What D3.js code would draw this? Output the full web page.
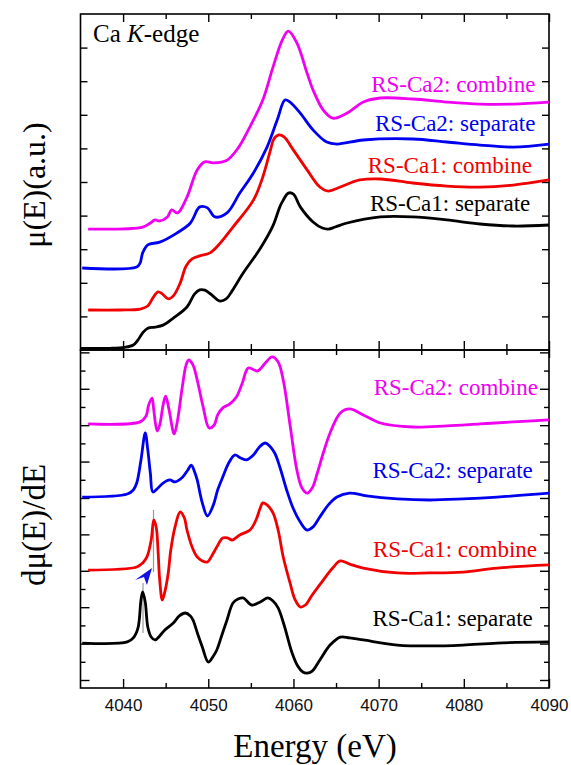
<!DOCTYPE html>
<html>
<head>
<meta charset="utf-8">
<script src="https://cdn.jsdelivr.net/npm/d3@7"></script>
<style>
  body { margin: 0; background: #fff; }
  .serif { font-family: "Liberation Serif", "Times New Roman", "DejaVu Serif", "Noto Serif", serif; }
  .sans { font-family: "Liberation Sans", Arial, "DejaVu Sans", sans-serif; }
</style>
</head>
<body>
<div id="chart"></div>
<script>
// tick values
const energyMajor = [4040, 4050, 4060, 4070, 4080, 4090];
const energyMinor = [4045, 4055, 4065, 4075, 4085];
const muTicks = [1, 2, 3, 4, 5, 6, 7, 8, 9];
const derMajor = [0, 2, 4, 6, 8, 10, 12, 14, 16, 18];
const derMinor = [1, 3, 5, 7, 9, 11, 13, 15, 17];

const seriesNames = ["RS-Ca1: separate", "RS-Ca1: combine", "RS-Ca2: separate", "RS-Ca2: combine"];
const seriesColors = ["#000000", "#f00000", "#0000f0", "#f000f0"];

// mu(E), offset stacked, [energy eV, a.u.]
const muCa1Sep = [[4035.0,0.05],[4038.5,0.05],[4040.2,0.08],[4041.2,0.15],[4041.75,0.30],[4042.3,0.51],[4042.9,0.65],[4043.75,0.68],[4044.7,0.74],[4045.9,0.95],[4047.5,1.28],[4048.4,1.67],[4049.0,1.79],[4049.6,1.78],[4050.4,1.64],[4051.3,1.46],[4052.1,1.52],[4052.8,1.76],[4054.1,2.29],[4056.1,3.02],[4057.6,3.70],[4058.4,4.26],[4058.8,4.46],[4059.4,4.67],[4060.0,4.64],[4060.8,4.26],[4062.3,3.81],[4063.4,3.63],[4064.1,3.60],[4064.9,3.66],[4066.3,3.78],[4070.2,3.96],[4074.0,3.96],[4078.0,3.87],[4081.9,3.75],[4085.8,3.69],[4090,3.72]];
const muCa1Comb = [[4035.9,1.19],[4039.6,1.19],[4042.0,1.22],[4042.9,1.31],[4043.5,1.55],[4044.1,1.73],[4044.6,1.67],[4045.3,1.52],[4045.9,1.61],[4046.7,1.99],[4047.4,2.50],[4048.1,2.71],[4049.0,2.80],[4050.2,2.89],[4051.4,3.18],[4052.9,3.66],[4055.3,4.46],[4056.4,5.15],[4057.3,5.95],[4057.7,6.28],[4058.3,6.40],[4058.9,6.34],[4060.0,5.95],[4061.6,5.36],[4063.1,4.85],[4064.1,4.73],[4065.5,4.85],[4067.8,5.06],[4070.2,5.09],[4074.0,4.97],[4078.0,4.88],[4081.9,4.85],[4085.8,4.91],[4090,5.06]];
const muCa2Sep = [[4035.2,2.44],[4041.6,2.47],[4042.0,2.59],[4042.3,2.89],[4042.9,3.13],[4044.3,3.21],[4046.3,3.48],[4047.9,3.78],[4048.7,4.17],[4049.0,4.26],[4049.9,4.23],[4050.8,3.96],[4052.2,4.08],[4053.7,4.67],[4055.3,5.27],[4056.9,6.04],[4058.1,6.85],[4059.0,7.44],[4059.6,7.38],[4060.8,7.05],[4062.3,6.55],[4063.9,6.19],[4065.1,6.13],[4068.2,6.25],[4074.0,6.28],[4078.0,6.19],[4081.9,6.10],[4085.8,6.04],[4090,6.13]];
const muCa2Comb = [[4035.9,3.60],[4042.3,3.66],[4043.2,3.78],[4043.75,3.87],[4044.3,3.84],[4045.2,3.96],[4045.7,4.17],[4046.4,4.08],[4047.5,4.55],[4048.7,5.36],[4049.6,5.60],[4050.6,5.57],[4052.2,5.65],[4053.5,6.01],[4054.7,6.55],[4056.4,7.44],[4057.6,8.42],[4058.7,9.23],[4059.4,9.49],[4060.4,9.14],[4061.6,8.24],[4062.3,7.74],[4063.5,7.14],[4064.6,6.90],[4066.3,7.05],[4068.2,7.38],[4070.2,7.50],[4074.0,7.47],[4078.0,7.38],[4081.9,7.32],[4085.8,7.32],[4090,7.38]];

// first derivative, offset stacked, [energy eV, a.u.]
const derCa1Sep = [[4035.2,2.03],[4040.5,2.09],[4041.2,2.31],[4041.75,2.86],[4042.1,4.40],[4042.3,4.84],[4042.6,4.29],[4042.9,2.91],[4043.3,2.36],[4043.75,2.20],[4044.3,2.42],[4044.9,2.75],[4045.9,3.13],[4046.6,3.52],[4047.3,3.68],[4047.9,3.52],[4048.2,3.30],[4048.8,2.47],[4049.3,1.81],[4050.0,0.99],[4050.6,1.32],[4051.0,1.65],[4051.6,2.47],[4052.2,3.30],[4052.9,4.23],[4053.5,4.45],[4054.1,4.51],[4055.1,4.12],[4056.1,4.29],[4057.0,4.51],[4057.6,4.34],[4058.2,3.96],[4058.9,3.02],[4059.8,1.54],[4060.5,0.77],[4061.1,0.44],[4061.6,0.38],[4062.2,0.49],[4063.1,1.10],[4064.3,1.92],[4065.5,2.36],[4066.6,2.31],[4068.2,2.20],[4072.2,1.92],[4076.0,1.87],[4079.9,1.92],[4083.9,2.03],[4090,2.09]];
const derCa1Comb = [[4035.9,6.04],[4041.6,6.21],[4042.3,6.43],[4042.8,6.76],[4043.3,7.69],[4043.6,8.79],[4043.9,8.35],[4044.1,7.14],[4044.3,5.49],[4044.6,4.40],[4044.9,4.84],[4045.3,5.88],[4045.6,7.14],[4046.1,8.41],[4046.7,9.23],[4047.2,8.90],[4047.5,8.24],[4048.1,7.31],[4048.7,6.76],[4049.3,6.54],[4049.9,6.48],[4050.4,6.81],[4051.0,7.31],[4051.7,7.80],[4052.3,7.80],[4052.8,7.69],[4053.7,7.97],[4054.9,8.24],[4055.6,8.79],[4056.1,9.45],[4056.4,9.73],[4056.9,9.62],[4057.6,9.18],[4058.2,8.24],[4058.8,6.76],[4059.6,5.33],[4060.2,4.40],[4060.8,4.01],[4061.4,4.12],[4062.2,4.67],[4063.5,5.49],[4064.6,6.15],[4065.5,6.54],[4066.6,6.37],[4068.2,6.15],[4072.2,5.88],[4076.0,5.88],[4079.9,5.93],[4083.9,6.15],[4090,6.32]];
const derCa2Sep = [[4035.2,10.05],[4040.5,10.22],[4041.2,10.44],[4041.6,10.82],[4042.1,12.09],[4042.6,13.57],[4042.9,12.64],[4043.2,11.37],[4043.5,10.33],[4044.1,10.55],[4044.7,10.82],[4045.5,10.99],[4046.1,10.88],[4047.0,11.15],[4047.6,11.54],[4048.0,11.81],[4048.4,11.43],[4048.7,10.99],[4049.3,9.73],[4049.9,9.01],[4050.6,9.62],[4051.1,10.44],[4051.7,11.15],[4052.4,11.92],[4053.1,12.36],[4053.8,12.20],[4054.5,12.09],[4055.3,12.36],[4056.0,12.80],[4056.7,13.02],[4057.2,12.86],[4057.8,12.47],[4058.4,11.70],[4059.2,10.44],[4059.95,9.45],[4060.8,8.68],[4061.6,8.24],[4062.3,8.41],[4063.1,8.96],[4064.1,9.62],[4065.1,10.05],[4066.6,10.27],[4068.6,10.11],[4072.2,9.95],[4076.0,9.89],[4079.9,9.95],[4083.9,10.05],[4090,10.27]];
const derCa2Comb = [[4035.9,14.07],[4042.0,14.18],[4042.7,14.51],[4043.0,15.11],[4043.4,15.49],[4043.6,14.84],[4044.0,13.68],[4044.3,14.01],[4044.7,15.11],[4045.0,15.60],[4045.4,14.84],[4046.0,13.52],[4046.4,14.29],[4046.9,15.93],[4047.4,17.31],[4047.7,17.58],[4048.2,17.31],[4048.7,16.48],[4049.4,15.00],[4050.1,13.85],[4050.7,14.01],[4051.1,14.56],[4051.7,14.95],[4052.5,15.16],[4053.3,15.55],[4054.0,16.32],[4054.7,17.14],[4055.8,16.98],[4056.7,17.42],[4057.5,17.75],[4058.2,17.47],[4058.8,16.48],[4059.6,14.01],[4060.4,11.54],[4061.0,10.55],[4061.6,10.27],[4062.2,10.55],[4062.8,11.37],[4063.5,12.47],[4064.3,13.57],[4065.5,14.67],[4066.6,14.89],[4068.2,14.56],[4070.2,14.12],[4074.0,13.90],[4078.0,13.96],[4081.9,14.07],[4085.8,14.18],[4090,14.29]];

// label anchors (right end of text, baseline) in data units
const muLabelAt = [[4087.8,4.14],[4088.0,5.27],[4088.4,6.52],[4088.4,7.68]];
const derLabelAt = [[4088.1,2.97],[4088.6,6.76],[4088.1,11.10],[4088.7,15.66]];
// peak markers and arrow between them
const peakLines = [[4042.34,2.58,5.33],[4043.57,5.93,9.34]];
const arrowPts = [[4043.4,6.15],[4041.4,5.49],[4042.45,5.66],[4042.8,5.22]];

const width = 571, height = 765;

const svg = d3.select("#chart").append("svg")
  .attr("width", width)
  .attr("height", height);

const x = d3.scaleLinear().domain([4035, 4090]).range([80.5, 549]);
const yMu = d3.scaleLinear().domain([0, 10]).range([350, 14]);
const yDer = d3.scaleLinear().domain([-0.44, 18.13]).range([688, 350]);

function addAxis(axis, dx, dy) {
  const g = svg.append("g")
    .attr("transform", `translate(${dx},${dy})`)
    .call(axis);
  g.select(".domain").remove();
  g.selectAll(".tick line").attr("stroke", "#000").attr("stroke-width", 1.4);
  return g;
}

// x ticks on every horizontal frame edge, pointing inward
[[d3.axisTop, 14, -8], [d3.axisBottom, 350, -9], [d3.axisTop, 350, -8]].forEach(([ax, yy, s]) => {
  addAxis(ax(x).tickValues(energyMajor).tickSize(s).tickFormat(""), 0, yy);
  addAxis(ax(x).tickValues(energyMinor).tickSize(s + 3).tickFormat(""), 0, yy);
});
const bottomAxis = addAxis(d3.axisBottom(x).tickValues(energyMajor).tickSize(-9).tickPadding(11).tickFormat(d3.format("d")), 0, 688);
bottomAxis.attr("font-family", null).attr("font-size", null);
bottomAxis.selectAll("text")
  .attr("class", "sans")
  .attr("fill", "#111")
  .style("font-size", "17px");
addAxis(d3.axisBottom(x).tickValues(energyMinor).tickSize(-5).tickFormat(""), 0, 688);

// y ticks
addAxis(d3.axisLeft(yMu).tickValues(muTicks).tickSize(-7).tickFormat(""), 80.5, 0);
addAxis(d3.axisRight(yMu).tickValues(muTicks).tickSize(-7).tickFormat(""), 549, 0);
addAxis(d3.axisLeft(yDer).tickValues(derMajor).tickSize(-9).tickFormat(""), 80.5, 0);
addAxis(d3.axisLeft(yDer).tickValues(derMinor).tickSize(-5).tickFormat(""), 80.5, 0);
addAxis(d3.axisRight(yDer).tickValues(derMajor).tickSize(-9).tickFormat(""), 549, 0);
addAxis(d3.axisRight(yDer).tickValues(derMinor).tickSize(-5).tickFormat(""), 549, 0);

// frames
[yMu, yDer].forEach(ys => {
  svg.append("rect")
    .attr("x", x(4035)).attr("y", ys.range()[1])
    .attr("width", x(4090) - x(4035))
    .attr("height", ys.range()[0] - ys.range()[1])
    .attr("fill", "none")
    .attr("stroke", "#000")
    .attr("stroke-width", 1.6);
});

const muData = [muCa1Sep, muCa1Comb, muCa2Sep, muCa2Comb];
const derData = [derCa1Sep, derCa1Comb, derCa2Sep, derCa2Comb];

const muLine = d3.line().x(d => x(d[0])).y(d => yMu(d[1])).curve(d3.curveCatmullRom.alpha(0.5));
const derLine = d3.line().x(d => x(d[0])).y(d => yDer(d[1])).curve(d3.curveCatmullRom.alpha(0.5));

// gray peak markers
svg.selectAll(".peak").data(peakLines).enter().append("line")
  .attr("x1", d => x(d[0])).attr("x2", d => x(d[0]))
  .attr("y1", d => yDer(d[1])).attr("y2", d => yDer(d[2]))
  .attr("stroke", "#999").attr("stroke-width", 1.2);

svg.selectAll(".mu").data(muData).enter().append("path")
  .attr("d", muLine)
  .attr("fill", "none")
  .attr("stroke", (d, i) => seriesColors[i])
  .attr("stroke-width", 2.8)
  .attr("stroke-linejoin", "round");

svg.selectAll(".der").data(derData).enter().append("path")
  .attr("d", derLine)
  .attr("fill", "none")
  .attr("stroke", (d, i) => seriesColors[i])
  .attr("stroke-width", 2.8)
  .attr("stroke-linejoin", "round");

// blue arrow
svg.append("polygon")
  .attr("points", arrowPts.map(d => `${x(d[0])},${yDer(d[1])}`).join(" "))
  .attr("fill", "#1010e0");

// curve labels
function addLabels(anchors, ys) {
  svg.selectAll(null).data(anchors).enter().append("text")
    .attr("class", "serif")
    .attr("x", d => x(d[0]))
    .attr("y", d => ys(d[1]))
    .attr("text-anchor", "end")
    .attr("fill", (d, i) => seriesColors[i])
    .style("font-size", "23px")
    .text((d, i) => seriesNames[i]);
}
addLabels(muLabelAt, yMu);
addLabels(derLabelAt, yDer);

// panel title
const title = svg.append("text")
  .attr("class", "serif")
  .attr("x", 93).attr("y", 42)
  .style("font-size", "25px");
title.append("tspan").text("Ca ");
title.append("tspan").style("font-style", "italic").text("K");
title.append("tspan").text("-edge");

// axis titles
svg.append("text")
  .attr("class", "serif")
  .attr("transform", "translate(45,185) rotate(-90)")
  .attr("text-anchor", "middle")
  .style("font-size", "32px")
  .text("μ(E)(a.u.)");

svg.append("text")
  .attr("class", "serif")
  .attr("transform", "translate(45,525) rotate(-90)")
  .attr("text-anchor", "middle")
  .style("font-size", "33px")
  .text("dμ(E)/dE");

svg.append("text")
  .attr("class", "serif")
  .attr("x", 315).attr("y", 757)
  .attr("text-anchor", "middle")
  .style("font-size", "33px")
  .text("Energy (eV)");
</script>
</body>
</html>
